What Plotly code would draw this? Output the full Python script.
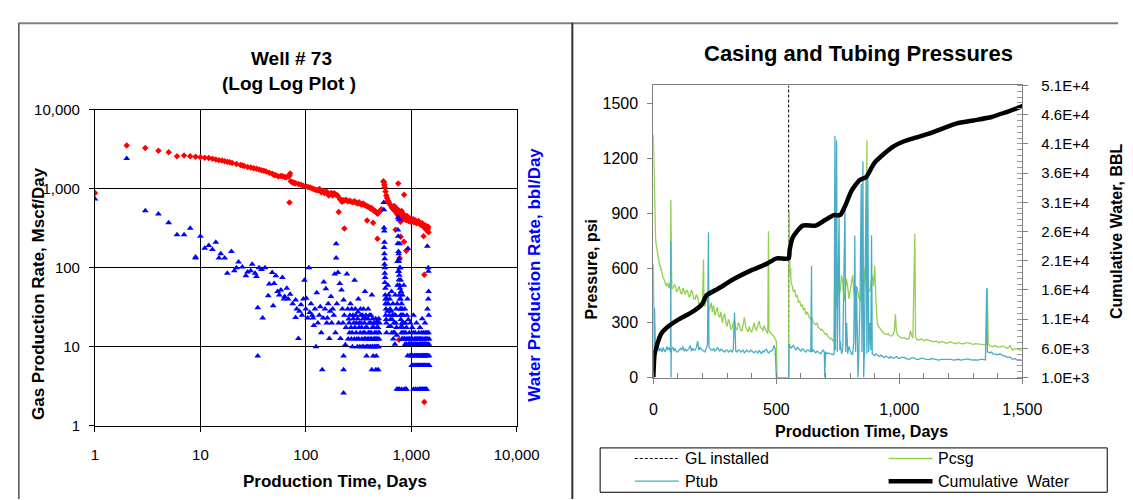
import plotly.graph_objects as go

W, H = 1133, 500
def px(x): return x / W
def py(y): return 1 - y / H

# ---------------- Left chart data (log-log) ----------------
gas_day = [1, 2, 3, 4, 5, 6, 7, 8, 9, 10, 11, 12, 13, 14, 15, 16, 17, 18, 19, 20,
           22, 24, 25, 26, 28, 30, 32, 34, 36, 38, 40, 42, 45, 48, 50, 52, 55, 58, 60, 63,
           65, 68, 70, 71, 70, 72, 74, 76, 78, 80, 85, 90, 95, 100, 105, 110, 115, 120, 125, 130,
           135, 140, 145, 150, 155, 160, 165, 170, 175, 180, 185, 190, 195, 200, 205, 210, 215, 220, 225, 230,
           232, 240, 250, 260, 270, 280, 290, 300, 310, 320, 330, 340, 350, 360, 370, 380, 381, 390, 400, 410,
           420, 430, 435, 440, 450, 460, 470, 478, 480, 490, 500, 510, 520, 545, 550, 555, 560, 570, 580, 590,
           600, 610, 620, 635, 650, 665, 680, 690, 700, 710, 720, 730, 740, 745, 750, 753, 760, 766, 770, 776,
           780, 790, 794, 800, 810, 820, 830, 840, 850, 855, 855, 860, 870, 880, 890, 897, 900, 910, 920, 930,
           940, 950, 960, 970, 980, 990, 1000, 1020, 1040, 1050, 1060, 1080, 1100, 1120, 1150, 1170, 1200, 1220, 1250, 1270,
           1300, 1309, 1328, 1328, 1330, 1350, 1370, 1400, 1420, 1440, 1450, 1460]
gas_rate = [880, 3510, 3250, 3020, 2880, 2570, 2620, 2570, 2520, 2500, 2460, 2430, 2380, 2330, 2290, 2260, 2220, 2190, 2150, 2110,
            2050, 1990, 1960, 1930, 1880, 1845, 1810, 1780, 1740, 1710, 1680, 1640, 1590, 1540, 1490, 1470, 1420, 1440, 1430, 1400,
            1390, 1420, 1450, 1550, 665, 1240, 1200, 1190, 1170, 1170, 1140, 1120, 1090, 1070, 1050, 1030, 1000, 980, 960, 950,
            990, 900, 930, 880, 910, 900, 820, 860, 880, 815, 870, 850, 830, 815, 507, 740, 720, 680, 710, 700,
            313, 720, 690, 700, 680, 670, 690, 660, 650, 670, 640, 630, 650, 620, 610, 600, 396, 590, 578, 560,
            570, 546, 371, 530, 520, 512, 495, 232, 480, 500, 512, 530, 546, 1240, 1200, 1120, 1040, 920, 820, 760,
            700, 680, 650, 620, 590, 560, 545, 600, 525, 302, 498, 560, 470, 515, 480, 1160, 440, 12.2, 520, 132,
            453, 380, 246, 445, 520, 400, 480, 430, 445, 838, 212, 460, 420, 440, 400, 163, 424, 450, 400, 430,
            390, 410, 420, 395, 410, 380, 405, 390, 410, 396, 375, 400, 390, 365, 375, 390, 370, 350, 350, 365,
            335, 250, 81, 2, 320, 320, 340, 305, 290, 310, 330, 280]

water_day = [1, 2, 3, 4, 5, 6, 7, 8, 9, 9, 10, 11, 12, 13, 14, 15, 15.6, 17, 18, 19.7,
             21, 22, 23, 25, 27, 28, 30, 31, 33, 34, 35, 35, 36, 38, 39, 41, 44, 45, 48, 49,
             50, 52, 54, 56, 58, 60, 62, 63, 66, 68, 71, 75, 80, 80, 82, 85, 87, 90, 92, 95,
             97, 100, 101, 104, 107, 109, 112, 115, 117, 119, 122, 125, 127, 130, 134, 137, 140, 143, 146, 148,
             152, 155, 158, 160, 163, 167, 170, 173, 176, 180, 184, 188, 191, 194, 194, 197, 202, 205, 210, 213,
             218, 222, 225, 228, 228, 228, 228, 232, 237, 240, 245, 250, 255, 260, 265, 270, 277, 280, 285, 290,
             295, 300, 305, 310, 315, 320, 325, 330, 335, 340, 345, 350, 355, 360, 364, 368, 372, 377, 380, 385,
             390, 395, 400, 405, 410, 415, 420, 423, 423, 428, 432, 436, 440, 445, 450, 455, 460, 462, 466, 470,
             474, 478, 482, 486, 490, 495, 500, 548, 550, 552, 555, 557, 560, 562, 565, 568, 570, 575, 578, 582,
             590, 600, 610, 620, 630, 640, 650, 660, 670, 680, 690, 700, 705, 715, 720, 730, 740, 745, 750, 755,
             760, 763, 766, 770, 775, 778, 780, 785, 790, 795, 800, 805, 810, 815, 820, 825, 830, 835, 840, 850,
             860, 870, 880, 890, 900, 910, 920, 930, 935, 940, 950, 960, 970, 980, 990, 1000, 1010, 1020, 1030, 1040,
             1050, 1060, 1070, 1080, 1090, 1100, 1110, 1120, 1130, 1140, 1150, 1160, 1170, 1180, 1190, 1200, 1210, 1220, 1230, 1240,
             1250, 1260, 1270, 1280, 1290, 1300, 1310, 1320, 1330, 1340, 1350, 1360, 1370, 1380, 1390, 1400, 1410, 1420, 1425, 1430,
             1440, 1445, 1450, 1455, 1460, 1465, 1470, 1475, 1480,
             730, 770, 810, 860, 900, 1050, 1100, 1150, 1200, 1250, 1300, 1350, 1400]
water_rate = [740, 2400, 526, 478, 371, 260, 260, 316, 136, 132, 250, 176, 190, 170, 210, 132, 150, 132, 85, 160,
              91, 100, 118, 102, 79, 88, 91, 110, 85, 77, 31, 7.6, 100, 95, 23, 100, 44, 62, 87, 33,
              63, 79, 50, 45, 52, 75, 40, 43, 55, 40, 46, 35, 39, 23.4, 30, 12.7, 28, 34, 25, 40,
              69, 30, 41, 23, 100, 27, 35, 25, 23, 18.5, 30, 10, 48, 20, 25, 32, 15, 5.1, 23, 66,
              30, 54, 20, 23, 35, 12.7, 28, 43, 20, 30, 25, 83, 15, 132, 200, 35, 87, 20, 63, 12.7,
              52, 30, 20, 39, 2.6, 5.1, 7.6, 25, 10.6, 17.5, 83, 30, 22.4, 15, 35, 12.5, 10, 25, 20, 69,
              30, 15, 12.5, 22.5, 40, 17.5, 10, 30, 20, 12.5, 25, 15, 10, 20, 50, 12.5, 25, 7.6, 17.5, 10,
              30, 12.5, 20, 15, 10, 25, 12.5, 45, 5.1, 17.5, 10, 7.6, 20, 12.5, 15, 10, 22.5, 5.1, 7.6, 12.5,
              17.5, 21, 10, 5.1, 15, 12.5, 20, 667, 540, 320, 290, 210, 130, 100, 75, 55, 40, 30, 22, 15,
              35, 60, 45, 25, 30, 18, 50, 22, 35, 15, 25, 10.7, 45, 20, 30, 14, 60, 202, 427, 90,
              150, 120, 407, 80, 60, 200, 40, 100, 25, 70, 50, 18, 35, 12.5, 30, 45, 20, 15, 25, 60,
              12.5, 30, 20, 10.7, 17.5, 25, 40, 175, 12.5, 22, 10.7, 15, 7.7, 20, 10.7, 12.5, 5.8, 17.5, 7.7, 10.7,
              25, 5.8, 12.5, 7.7, 15, 10.7, 5.8, 20, 7.7, 10.7, 12.5, 5.8, 7.7, 15, 10.7, 5.8, 17.5, 7.7, 10.7, 12.5,
              5.8, 7.7, 22.5, 10.7, 5.8, 7.7, 15, 10.7, 5.8, 7.7, 20, 10.7, 12.5, 5.8, 7.7, 10.7, 15, 187, 30, 7.7,
              5.8, 10.7, 100, 90, 50, 25, 10.7, 7.7, 5.8,
              2.9, 2.9, 2.9, 2.9, 2.9, 2.9, 2.9, 2.9, 2.9, 2.9, 2.9, 2.9, 2.9]

# additional water readings (day, bbl/day) from the dense clusters
water_cluster = [(252, 12.5), (258, 20), (262, 25), (268, 17.5), (272, 30), (275, 15), (282, 22.5), (288, 12.5),
                 (292, 17.5), (298, 25), (302, 20), (308, 10), (312, 27.5), (318, 12.5), (322, 20), (328, 15),
                 (332, 25), (338, 17.5), (342, 10), (348, 22.5), (352, 30), (358, 12.5), (362, 15), (366, 22.5),
                 (370, 17.5), (375, 10), (382, 12.5), (388, 22.5), (392, 15), (398, 10), (402, 25), (408, 12.5),
                 (412, 20), (418, 15), (426, 10), (430, 22.5), (438, 12.5), (442, 17.5), (448, 10), (452, 20),
                 (458, 12.5), (464, 15), (468, 10), (472, 20), (480, 12.5), (484, 17.5), (488, 10), (492, 22.5),
                 (498, 15),
                 (553, 180), (556, 150), (558, 110), (561, 85), (563, 65), (566, 45), (569, 35), (572, 25),
                 (580, 20), (585, 40), (595, 28), (605, 35), (615, 18), (625, 40), (635, 22), (645, 28),
                 (655, 15), (665, 25), (675, 12.5), (685, 20), (695, 15), (710, 25), (725, 17.5), (735, 35),
                 (742, 120), (748, 300), (752, 250), (757, 160), (761, 90), (764, 70), (768, 130), (772, 45),
                 (776, 100), (782, 55), (787, 30), (792, 40), (797, 22), (802, 30), (808, 15), (812, 25),
                 (818, 20), (822, 12.5), (828, 17.5), (833, 25), (838, 12.5), (845, 20), (855, 15), (865, 12.5),
                 (875, 10.7), (885, 15), (895, 12.5),
                 (905, 10.7), (915, 12.5), (925, 7.7), (945, 10.7), (955, 12.5), (965, 10.7), (975, 12.5), (985, 7.7),
                 (995, 10.7), (1005, 7.7), (1015, 10.7), (1025, 12.5), (1035, 5.8), (1045, 15), (1055, 10.7), (1065, 7.7),
                 (1075, 10.7), (1085, 5.8), (1095, 12.5), (1105, 7.7), (1115, 10.7), (1125, 12.5), (1135, 5.8), (1145, 7.7),
                 (1155, 10.7), (1165, 12.5), (1175, 5.8), (1185, 7.7), (1195, 12.5), (1205, 10.7), (1215, 5.8), (1225, 12.5),
                 (1235, 7.7), (1245, 10.7), (1255, 15), (1265, 10.7), (1275, 7.7), (1285, 12.5), (1295, 10.7), (1305, 5.8),
                 (1315, 7.7), (1325, 12.5), (1335, 10.7), (1345, 5.8), (1355, 7.7), (1365, 15), (1375, 10.7), (1385, 7.7),
                 (1395, 12.5), (1405, 5.8), (1415, 7.7), (1435, 12.5), (1450, 40), (1458, 15), (1468, 5.8), (1478, 12.5),
                 (750, 2.9), (880, 2.9), (1220, 2.9), (1280, 2.9), (1330, 2.9), (1380, 2.9)]

log_tickvals = [1, 10, 100, 1000, 10000]
log_ticktext = ["1", "10", "100", "1,000", "10,000"]

# ---------------- Right chart data ----------------
gl_day = [550, 550]
gl_psi = [0, 1600]

pcsg = [(0, 1330), (1, 1250), (2, 1150), (3, 1040), (4, 990), (5, 930), (6, 870), (7, 840), (8, 800), (9, 770),
        (10, 745), (12, 720), (14, 700), (16, 690), (18, 675), (20, 660), (22, 640), (24, 625), (26, 610), (28, 615),
        (30, 600), (33, 580), (35, 570), (38, 560), (40, 545), (43, 540), (45, 530), (48, 515), (50, 520), (53, 500),
        (55, 505), (58, 520), (60, 515), (63, 490), (65, 495), (68, 520), (70, 510), (71, 972), (72, 500), (75, 485),
        (80, 490), (85, 510), (90, 500), (95, 470), (100, 480), (105, 500), (110, 470), (115, 455), (120, 490), (125, 470),
        (130, 455), (135, 480), (140, 470), (145, 440), (150, 450), (155, 480), (160, 465), (165, 430), (170, 430), (175, 455),
        (180, 440), (185, 400), (190, 410), (195, 380), (200, 420), (204, 646), (206, 400), (210, 390), (215, 430), (220, 420),
        (225, 370), (230, 380), (235, 410), (240, 360), (245, 395), (250, 340), (255, 370), (260, 385), (265, 340), (270, 330),
        (275, 360), (280, 300), (285, 330), (290, 350), (295, 300), (300, 280), (305, 320), (310, 300), (315, 265), (320, 270),
        (325, 300), (330, 310), (335, 270), (340, 260), (345, 300), (350, 290), (355, 260), (360, 255), (365, 290), (370, 330),
        (375, 280), (380, 265), (385, 250), (390, 280), (395, 255), (400, 250), (405, 280), (410, 300), (415, 265), (420, 260),
        (425, 290), (430, 310), (435, 275), (440, 270), (445, 255), (450, 285), (455, 265), (460, 250), (465, 240), (468, 801),
        (470, 260), (475, 245), (480, 240), (485, 230), (490, 225), (495, 210), (500, 200), (503, 0), (550, 0), (552, 910),
        (555, 560), (558, 600), (560, 520), (565, 500), (570, 470), (575, 480), (580, 440), (585, 450), (590, 410), (595, 420),
        (600, 390), (605, 400), (610, 370), (615, 380), (620, 345), (625, 360), (630, 335), (635, 325), (640, 320), (645, 330),
        (650, 300), (655, 295), (660, 290), (665, 300), (670, 275), (675, 270), (680, 260), (685, 265), (690, 250), (695, 245),
        (700, 235), (705, 240), (710, 225), (715, 220), (720, 210), (725, 215), (730, 200), (735, 200), (740, 970), (743, 380),
        (746, 500), (750, 620), (755, 450), (760, 480), (765, 560), (770, 520), (775, 420), (780, 460), (785, 540), (790, 500),
        (795, 430), (800, 470), (805, 520), (810, 560), (815, 470), (820, 430), (825, 500), (830, 480), (835, 440), (840, 420),
        (845, 500), (850, 540), (855, 470), (860, 600), (865, 560), (868, 1298), (870, 520), (875, 480), (880, 470), (885, 530),
        (890, 560), (895, 500), (900, 611), (905, 420), (908, 350), (910, 300), (915, 280), (920, 270), (925, 260), (930, 250),
        (935, 245), (940, 240), (945, 238), (950, 235), (955, 240), (960, 230), (965, 228), (970, 228), (975, 235), (980, 260),
        (984, 347), (988, 250), (995, 230), (1000, 225), (1010, 215), (1020, 220), (1030, 210), (1040, 215), (1045, 257), (1050, 230),
        (1055, 215), (1063, 787), (1066, 220), (1070, 210), (1080, 205), (1090, 212), (1100, 200), (1110, 208), (1120, 205), (1130, 198),
        (1140, 195), (1150, 200), (1160, 190), (1170, 196), (1180, 195), (1190, 188), (1200, 190), (1210, 195), (1220, 188), (1230, 185),
        (1240, 192), (1250, 186), (1260, 185), (1270, 190), (1280, 190), (1290, 184), (1300, 182), (1310, 186), (1320, 185), (1330, 180),
        (1340, 180), (1350, 178), (1355, 178), (1358, 490), (1361, 185), (1365, 180), (1370, 172), (1380, 170), (1390, 175), (1400, 165),
        (1410, 168), (1420, 172), (1430, 165), (1440, 160), (1450, 175), (1460, 150), (1470, 158), (1480, 155), (1490, 150), (1500, 148)]

ptub = [(0, 620), (1, 300), (2, 230), (3, 160), (4, 280), (5, 380), (6, 250), (7, 200), (8, 180), (10, 170),
        (12, 185), (15, 150), (18, 165), (20, 175), (22, 150), (25, 145), (28, 160), (30, 160), (33, 145), (35, 140),
        (38, 155), (40, 165), (43, 150), (45, 150), (48, 140), (50, 145), (53, 160), (55, 170), (58, 150), (60, 150),
        (63, 165), (65, 155), (68, 145), (70, 140), (71, 745), (72, 0), (73, 150), (76, 160), (80, 165), (84, 145),
        (88, 160), (90, 150), (95, 140), (100, 140), (105, 150), (110, 160), (115, 150), (120, 170), (125, 145), (130, 155),
        (135, 145), (140, 150), (145, 160), (150, 175), (155, 145), (160, 160), (165, 150), (170, 150), (175, 165), (180, 200),
        (185, 150), (190, 165), (195, 155), (200, 150), (205, 145), (210, 140), (215, 160), (220, 180), (224, 796), (226, 170),
        (230, 160), (235, 150), (240, 150), (245, 160), (250, 145), (255, 150), (260, 165), (265, 150), (270, 145), (275, 155),
        (280, 150), (285, 145), (290, 140), (295, 150), (300, 150), (305, 140), (310, 145), (315, 150), (320, 140), (325, 150),
        (330, 356), (332, 150), (335, 145), (340, 140), (345, 150), (350, 150), (355, 140), (360, 145), (365, 150), (370, 135),
        (375, 145), (380, 150), (385, 140), (390, 140), (395, 150), (400, 145), (405, 140), (410, 135), (415, 145), (420, 140),
        (425, 135), (430, 150), (435, 140), (440, 130), (445, 145), (450, 140), (455, 150), (460, 155), (465, 140), (470, 135),
        (475, 145), (480, 145), (485, 150), (490, 175), (495, 160), (500, 0), (550, 0), (552, 185), (555, 175), (560, 160),
        (565, 170), (570, 175), (575, 160), (580, 150), (585, 165), (590, 160), (595, 150), (600, 145), (605, 155), (610, 155),
        (615, 145), (620, 140), (625, 150), (630, 150), (635, 145), (640, 140), (643, 611), (645, 140), (650, 150), (655, 140),
        (660, 135), (665, 145), (670, 140), (675, 135), (680, 130), (685, 140), (690, 150), (695, 140), (697, 0), (700, 140),
        (705, 130), (710, 135), (715, 130), (720, 130), (725, 128), (730, 125), (735, 130), (738, 1324), (740, 150), (745, 1300),
        (748, 140), (752, 700), (755, 900), (758, 150), (760, 200), (765, 130), (770, 150), (775, 600), (779, 928), (782, 140),
        (786, 300), (790, 130), (795, 170), (800, 150), (805, 130), (810, 125), (815, 200), (819, 778), (822, 140), (826, 500),
        (829, 130), (832, 0), (835, 130), (840, 400), (845, 1060), (848, 140), (852, 1183), (855, 0), (858, 145), (862, 600),
        (865, 1090), (868, 130), (872, 1100), (875, 140), (880, 300), (884, 150), (887, 780), (890, 130), (895, 125), (900, 120),
        (905, 130), (910, 125), (915, 118), (920, 115), (925, 122), (930, 120), (935, 112), (940, 110), (945, 118), (950, 115),
        (955, 110), (960, 105), (965, 115), (970, 112), (975, 105), (980, 108), (985, 112), (990, 115), (995, 105), (1000, 105),
        (1010, 110), (1020, 110), (1030, 102), (1040, 100), (1050, 108), (1060, 108), (1070, 100), (1080, 100), (1090, 106), (1100, 105),
        (1110, 100), (1120, 98), (1130, 104), (1140, 102), (1150, 97), (1160, 95), (1170, 100), (1180, 100), (1190, 96), (1200, 98),
        (1210, 100), (1220, 95), (1230, 98), (1240, 100), (1250, 95), (1260, 96), (1270, 101), (1280, 102), (1290, 97), (1300, 98),
        (1310, 96), (1320, 95), (1330, 100), (1340, 100), (1350, 97), (1355, 488), (1358, 140), (1365, 138), (1370, 135), (1375, 140),
        (1380, 130), (1390, 128), (1400, 125), (1410, 130), (1420, 120), (1430, 118), (1440, 110), (1450, 112), (1460, 100), (1470, 104),
        (1480, 95), (1490, 98), (1500, 92)]

cum_day = [0, 5, 15, 32, 65, 105, 157, 197, 217, 263, 329, 395, 462, 501, 550, 554, 567, 607, 660, 700,
           733, 759, 779, 806, 839, 865, 898, 938, 978, 1017, 1070, 1123, 1180, 1234, 1300, 1375, 1432, 1503]
cum_bbl = [1000, 4960, 6600, 8500, 9900, 11000, 12200, 13500, 15100, 16200, 17900, 19300, 20500, 21400, 21400, 22800, 25000, 27000, 27000, 28000,
           28800, 28800, 30300, 33000, 34800, 35300, 37700, 39300, 40600, 41400, 42100, 42800, 43700, 44500, 45000, 45600, 46400, 47500]

p_tickvals = [0, 300, 600, 900, 1200, 1500]
day_tickvals = [0, 500, 1000, 1500]
day_ticktext = ["0", "500", "1,000", "1,500"]
cum_tickvals = [1000, 6000, 11000, 16000, 21000, 26000, 31000, 36000, 41000, 46000, 51000]
cum_ticktext = ["1.0E+3", "6.0E+3", "1.1E+4", "1.6E+4", "2.1E+4", "2.6E+4", "3.1E+4", "3.6E+4", "4.1E+4", "4.6E+4", "5.1E+4"]

legend_names = ["GL installed", "Pcsg", "Ptub", "Cumulative  Water"]

FONT = "Liberation Sans, Arial, sans-serif"
GREEN = "#92D050"
TEAL = "#4BACC6"

all_water_day = water_day + [d for d, _ in water_cluster]
all_water_rate = water_rate + [v for _, v in water_cluster]

fig = go.Figure()

# Left chart traces
fig.add_trace(go.Scatter(x=gas_day, y=gas_rate, mode="markers", xaxis="x", yaxis="y",
                         marker=dict(symbol="diamond", size=5, color="#FF0000"),
                         showlegend=False, name="Gas"))
fig.add_trace(go.Scatter(x=all_water_day, y=all_water_rate, mode="markers", xaxis="x", yaxis="y",
                         marker=dict(symbol="triangle-up", size=6, color="#0000FF"),
                         showlegend=False, name="Water"))

# Right chart traces
gl_line = dict(color="black", width=1, dash="3px,2px")
pcsg_line = dict(color=GREEN, width=1.3)
ptub_line = dict(color=TEAL, width=1.3)
cum_line = dict(color="black", width=4.5)
fig.add_trace(go.Scatter(x=gl_day, y=gl_psi, mode="lines", xaxis="x2", yaxis="y2",
                         line=gl_line, name=legend_names[0], showlegend=False))
fig.add_trace(go.Scatter(x=[d for d, _ in pcsg], y=[v for _, v in pcsg], mode="lines", xaxis="x2", yaxis="y2",
                         line=pcsg_line, name=legend_names[1], showlegend=False))
fig.add_trace(go.Scatter(x=[d for d, _ in ptub], y=[v for _, v in ptub], mode="lines", xaxis="x2", yaxis="y2",
                         line=ptub_line, name=legend_names[2], showlegend=False))
fig.add_trace(go.Scatter(x=cum_day, y=cum_bbl, mode="lines", xaxis="x2", yaxis="y3",
                         line=dict(cum_line, shape="spline", smoothing=0.6), name=legend_names[3], showlegend=False))

tickfont = dict(family=FONT, size=15, color="black")

fig.update_layout(
    width=W, height=H,
    margin=dict(l=0, r=0, t=0, b=0),
    paper_bgcolor="white", plot_bgcolor="white",
    font=dict(family=FONT, color="black"),
    showlegend=False,
    xaxis=dict(type="log", range=[0, 4], domain=[px(85), px(517)], anchor="y",
               tickmode="array", tickvals=log_tickvals, ticktext=log_ticktext,
               showgrid=True, gridcolor="black", gridwidth=1, showline=True, linecolor="black",
               linewidth=1, mirror=True, ticks="outside", ticklen=5, tickcolor="black",
               tickfont=tickfont, ticklabelstandoff=10, zeroline=False),
    yaxis=dict(type="log", range=[0, 4], domain=[py(424), py(96)], anchor="x",
               tickmode="array", tickvals=log_tickvals, ticktext=log_ticktext,
               showgrid=True, gridcolor="black", gridwidth=1, showline=True, linecolor="black",
               linewidth=1, mirror=True, ticks="outside", ticklen=5, tickcolor="black",
               tickfont=tickfont, ticklabelstandoff=6, zeroline=False),
    xaxis2=dict(range=[0, 1500], domain=[px(657), px(1035)], anchor="y2",
                tickmode="array", tickvals=day_tickvals, ticktext=day_ticktext,
                showgrid=False, showline=True, linecolor="#7f7f7f", linewidth=1, mirror=True,
                ticks="outside", ticklen=5, tickcolor="#7f7f7f",
                minor=dict(tickmode="linear", tick0=0, dtick=100, ticks="inside", ticklen=5, tickcolor="#7f7f7f"),
                tickfont=dict(family=FONT, size=16, color="black"), ticklabelstandoff=12, zeroline=False),
    yaxis2=dict(range=[0, 1600], domain=[py(374), py(71)], anchor="x2",
                tickmode="array", tickvals=p_tickvals,
                showgrid=False, showline=True, linecolor="#7f7f7f", linewidth=1,
                ticks="outside", ticklen=5, tickcolor="#7f7f7f",
                tickfont=dict(family=FONT, size=16, color="black"), ticklabelstandoff=6, zeroline=False),
    yaxis3=dict(range=[1000, 51000], overlaying="y2", side="right", anchor="x2",
                tickmode="array", tickvals=cum_tickvals, ticktext=cum_ticktext,
                showgrid=False, showline=True, linecolor="#7f7f7f", linewidth=1,
                ticks="outside", ticklen=5, tickcolor="#7f7f7f",
                minor=dict(tickmode="linear", tick0=1000, dtick=1000, ticks="inside", ticklen=5, tickcolor="#9a9a9a"),
                tickfont=dict(family=FONT, size=15, color="black"), ticklabelstandoff=10, zeroline=False),
)

def ann(text, x, y, size, bold=True, color="black", angle=0, xanchor="center"):
    t = f"<b>{text}</b>" if bold else text
    fig.add_annotation(text=t, x=px(x), y=py(y), xref="paper", yref="paper",
                       xanchor=xanchor, yanchor="middle", showarrow=False, textangle=angle,
                       font=dict(family=FONT, size=size, color=color))

ann("Well # 73", 286, 43, 19)
ann("(Log Log Plot )", 284, 69, 19)
ann("Production Time, Days", 331, 482, 17)
ann("Gas Production Rate, Mscf/Day", 27, 287, 17, angle=-90)
ann("Water Production Rate, bbl/Day", 535, 267, 17, color="#0000FF", angle=-90)

ann("Casing and Tubing Pressures", 867, 38, 22)
ann("Production Time, Days", 870, 430, 16)
ann("Pressure, psi", 594, 261, 16, angle=-90)
ann("Cumulative Water, BBL", 1131, 222, 16, angle=-90)

# legend box drawn manually (two columns, like the reference)
fig.add_shape(type="rect", xref="paper", yref="paper", x0=px(602.5), x1=px(1122), y0=py(447), y1=py(493),
              line=dict(color="black", width=1), fillcolor="white")
legend_items = [(legend_names[0], gl_line, 638, 458), (legend_names[1], pcsg_line, 898, 458),
                (legend_names[2], ptub_line, 638, 481.5), (legend_names[3], cum_line, 898, 481.5)]
for name, ln, lx, ly in legend_items:
    fig.add_shape(type="line", xref="paper", yref="paper", x0=px(lx), x1=px(lx + 45), y0=py(ly), y1=py(ly),
                  line=ln)
    ann(name, lx + 49, ly, 16, bold=False, xanchor="left")

# panel borders
fig.add_shape(type="line", xref="paper", yref="paper", x0=px(7), x1=px(7), y0=py(6), y1=py(500),
              line=dict(color="#4d4d4d", width=1.5))
fig.add_shape(type="line", xref="paper", yref="paper", x0=px(7), x1=1, y0=py(6.5), y1=py(6.5),
              line=dict(color="#808080", width=2))
fig.add_shape(type="line", xref="paper", yref="paper", x0=px(574), x1=px(574), y0=py(6), y1=py(500),
              line=dict(color="#333333", width=2))

fig.write_html("out.html")
